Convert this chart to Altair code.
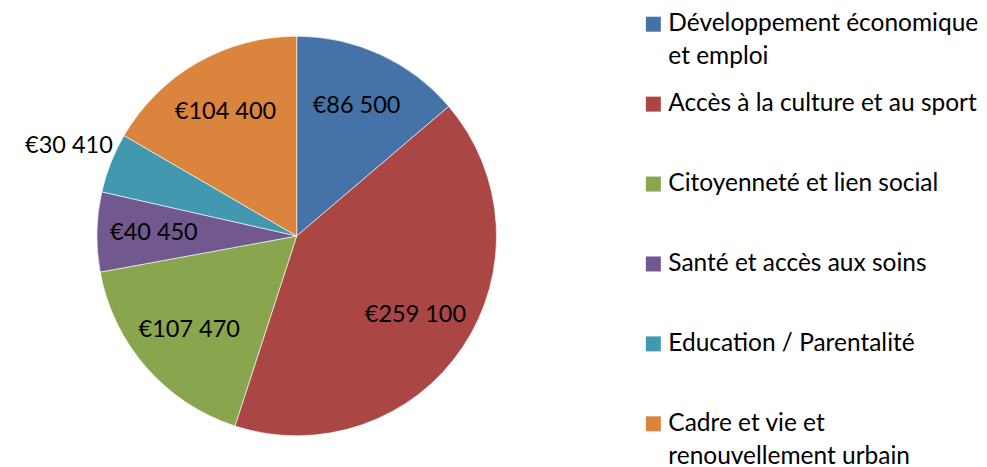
import altair as alt
import pandas as pd

categories = [
    "Développement économique et emploi",
    "Accès à la culture et au sport",
    "Citoyenneté et lien social",
    "Santé et accès aux soins",
    "Education / Parentalité",
    "Cadre et vie et renouvellement urbain",
]
legend_labels = [
    "Développement économique\net emploi",
    "Accès à la culture et au sport",
    "Citoyenneté et lien social",
    "Santé et accès aux soins",
    "Education / Parentalité",
    "Cadre et vie et\nrenouvellement urbain",
]
values = [86500, 259100, 107470, 40450, 30410, 104400]
colors = ["#4572A7", "#AA4643", "#89A54E", "#71588F", "#4198AF", "#DB843D"]
outside_label = "Education / Parentalité"

df = pd.DataFrame({
    "cat": categories,
    "legend": legend_labels,
    "value": values,
    "idx": list(range(len(categories))),
})

FONT = "Lato"
FS_PIE = 23.5
FS_LEG = 24.5
CX, CY = 289, 228
H = 450

color = alt.Color("cat:N", sort=categories,
                  scale=alt.Scale(domain=categories, range=colors), legend=None)

is_out = f"datum.cat == '{outside_label}'"

base = alt.Chart(df).transform_calculate(
    lab="'€' + replace(format(datum.value, ','), ',', ' ')"
)

arcs = base.mark_arc(outerRadius=200, stroke="white", strokeWidth=0.6).encode(
    theta=alt.Theta("value:Q", stack=True),
    color=color,
    order=alt.Order("idx:Q"),
    x=alt.value(CX),
    y=alt.value(CY),
)

inner = base.mark_text(radius=143, font=FONT, color="black").encode(
    theta=alt.Theta("value:Q", stack=True),
    order=alt.Order("idx:Q"),
    text="lab:N",
    size=alt.condition(is_out, alt.value(0), alt.value(FS_PIE)),
    x=alt.value(CX),
    y=alt.value(CY),
)

outer = base.mark_text(radius=245, font=FONT, color="black").encode(
    theta=alt.Theta("value:Q", stack=True),
    order=alt.Order("idx:Q"),
    text="lab:N",
    size=alt.condition(is_out, alt.value(FS_PIE), alt.value(0)),
    x=alt.value(CX),
    y=alt.value(CY),
)

pie = alt.layer(arcs, inner, outer).properties(width=578, height=H)

yleg = alt.Y("cat:N", sort=categories, axis=None,
             scale=alt.Scale(type="point", range=[16, 416], padding=0))

leg_base = alt.Chart(df).transform_calculate(
    l1="split(datum.legend, '\\n')[0]",
    l2="length(split(datum.legend, '\\n')) > 1 ? split(datum.legend, '\\n')[1] : ''",
)

sq = leg_base.mark_point(shape="square", filled=True, size=225, opacity=1).encode(
    x=alt.value(68),
    y=yleg,
    color=color,
)
txt1 = leg_base.mark_text(
    align="left", baseline="middle", dy=0, font=FONT, fontSize=FS_LEG, color="black",
).encode(x=alt.value(83), y=yleg, text="l1:N")
txt2 = leg_base.mark_text(
    align="left", baseline="middle", dy=33, font=FONT, fontSize=FS_LEG, color="black",
).encode(x=alt.value(83), y=yleg, text="l2:N")

legend = alt.layer(sq, txt1, txt2).properties(width=385, height=H)

chart = alt.hconcat(pie, legend, spacing=0).properties(padding=0).configure_view(stroke=None)

chart.save("out.html", embed_options={"renderer": "svg", "actions": False})
